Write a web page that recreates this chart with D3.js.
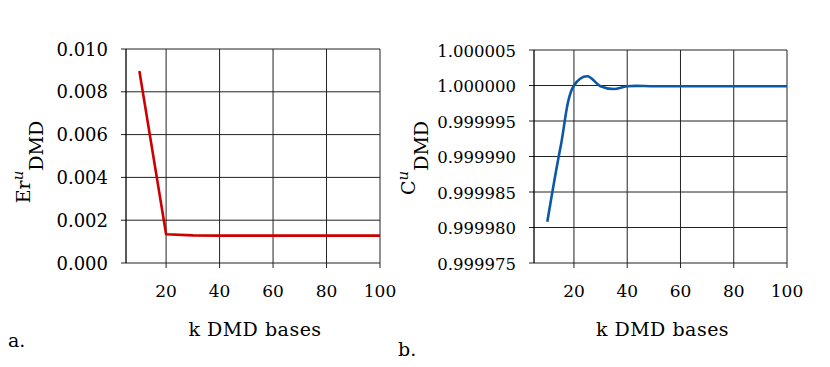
<!DOCTYPE html>
<html>
<head>
<meta charset="utf-8">
<script src="https://cdn.jsdelivr.net/npm/d3@7"></script>
<style>
  body { margin: 0; background: #fff; }
</style>
</head>
<body>
<div id="chart"></div>
<script>
// panel a: error vs number of DMD bases
const kA = [10, 20, 30, 40, 50, 60, 70, 80, 90, 100];
const errA = [0.00897, 0.00134, 0.00129, 0.00128, 0.00128, 0.00128, 0.00128, 0.00128, 0.00128, 0.00128];
// panel b: correlation vs number of DMD bases
const kB = [10, 15, 20, 25, 30, 35, 40, 50, 60, 70, 80, 90, 100];
const corB = [0.9999808, 0.9999914, 1.0000000, 1.0000013, 0.9999999, 0.9999995, 0.9999999,
              0.9999999, 0.9999999, 0.9999999, 0.9999999, 0.9999999, 0.9999999];

const xTicks = [20, 40, 60, 80, 100];
const yTicksA = [0, 0.002, 0.004, 0.006, 0.008, 0.010];
const yTicksB = [0.999975, 0.99998, 0.999985, 0.99999, 0.999995, 1.0, 1.000005];

const serif = "DejaVu Serif";

width = 830;
height = 367;

const svg = d3.select("#chart").append("svg")
    .attr("width", width)
    .attr("height", height)
    .style("font-family", serif);

function panel(opt) {
  const x = d3.scaleLinear().domain([5, 100]).range([opt.left, opt.right]);
  const y = d3.scaleLinear().domain(opt.yDomain).range([opt.bottom, opt.top]);
  const g = svg.append("g");

  // horizontal grid + ticks
  g.selectAll(".hg").data(opt.yTicks).join("line")
      .attr("x1", opt.left - 5).attr("x2", opt.right)
      .attr("y1", d => y(d)).attr("y2", d => y(d))
      .attr("stroke", "#222").attr("stroke-width", 1);
  // vertical grid + ticks
  g.selectAll(".vg").data(opt.xTicks).join("line")
      .attr("x1", d => x(d)).attr("x2", d => x(d))
      .attr("y1", opt.top).attr("y2", opt.bottom + 5)
      .attr("stroke", "#222").attr("stroke-width", 1);
  // left axis
  g.append("line")
      .attr("x1", opt.left).attr("x2", opt.left)
      .attr("y1", opt.top).attr("y2", opt.bottom)
      .attr("stroke", "#000").attr("stroke-width", 1.3);

  g.selectAll(".yl").data(opt.yTicks).join("text")
      .attr("x", opt.left - 18)
      .attr("y", d => y(d) + 6.5)
      .attr("text-anchor", "end")
      .style("font-size", opt.tickSize + "px")
      .text(d => opt.fmt(d));

  g.selectAll(".xl").data(opt.xTicks).join("text")
      .attr("x", d => x(d))
      .attr("y", opt.bottom + 34)
      .attr("text-anchor", "middle")
      .style("font-size", "17px")
      .text(d => d);

  g.append("text")
      .attr("x", (opt.left + opt.right) / 2 + 2)
      .attr("y", opt.bottom + 73)
      .attr("text-anchor", "middle")
      .style("font-size", "19px")
      .style("letter-spacing", "0.5px")
      .text("k DMD bases");

  // rotated y title with super/subscript
  const t = g.append("text")
      .attr("transform", `translate(${opt.titleX},${opt.titleY}) rotate(-90)`)
      .attr("text-anchor", "middle")
      .style("font-size", "19px");
  t.append("tspan").text(opt.titleMain);
  t.append("tspan").attr("dy", -7).style("font-style", "italic").style("font-size", "15px").text("u");
  t.append("tspan").attr("dy", opt.subShift + 7).text("DMD");

  g.append("text")
      .attr("x", opt.tagX).attr("y", opt.tagY)
      .style("font-size", "19px")
      .text(opt.tag);

  const line = d3.line()
      .x((d, i) => x(opt.xs[i]))
      .y(d => y(d))
      .curve(opt.curve);

  g.append("path")
      .datum(opt.ys)
      .attr("fill", "none")
      .attr("stroke", opt.color)
      .attr("stroke-width", 2.6)
      .attr("stroke-linejoin", "round")
      .attr("d", line);
}

panel({
  left: 126, right: 380, top: 49, bottom: 263,
  yDomain: [0, 0.010], yTicks: yTicksA, xTicks: xTicks,
  fmt: d3.format(".3f"), tickSize: 18,
  xs: kA, ys: errA, color: "#cc0000", curve: d3.curveLinear,
  titleMain: "Er", titleX: 30, titleY: 162, subShift: 13,
  tag: "a.", tagX: 8, tagY: 347
});

panel({
  left: 534, right: 787, top: 50, bottom: 263,
  yDomain: [0.999975, 1.000005], yTicks: yTicksB, xTicks: xTicks,
  fmt: d3.format(".6f"), tickSize: 16.5,
  xs: kB, ys: corB, color: "#0b59a6", curve: d3.curveCatmullRom.alpha(0.5),
  titleMain: "C", titleX: 415, titleY: 158, subShift: 13,
  tag: "b.", tagX: 398, tagY: 356
});
</script>
</body>
</html>
